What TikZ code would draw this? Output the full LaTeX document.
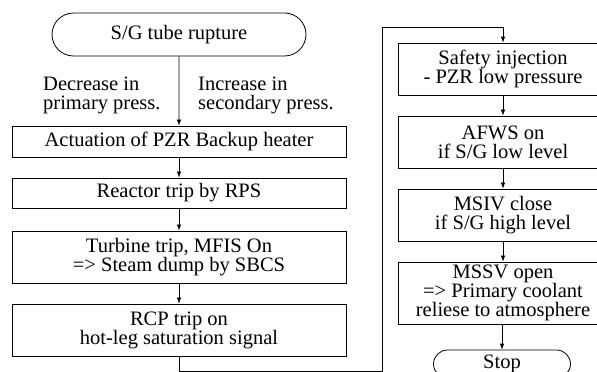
\documentclass[tikz,border=0pt]{standalone}
\usepackage{fontspec}
\setmainfont{Liberation Serif}
\usetikzlibrary{shapes.misc,arrows.meta}
\begin{document}
\begin{tikzpicture}[x=1pt,y=-1pt,
  every node/.style={font=\fontsize{20.5}{19}\selectfont, inner sep=0pt, align=center},
  box/.style={draw, line width=0.8pt, minimum width=334pt},
  rbox/.style={draw, line width=0.8pt, minimum width=210pt},
  term/.style={draw, line width=0.8pt, rounded rectangle},
  lbl/.style={anchor=west, align=left},
  conn/.style={line width=0.7pt, -{Latex[length=6pt,width=4.5pt]}},
  plain/.style={line width=0.7pt}]
\useasboundingbox (0,0) rectangle (597,372);
\clip (0,0) rectangle (597,372);
% left column
\node[term, minimum width=254pt, minimum height=43pt] (start) at (179,34.5) {S/G tube rupture};
\node[lbl] (ldec) at (43,95) {Decrease in\\primary press.};
\node[lbl] (linc) at (198,95) {Increase in\\secondary press.};
\node[box, minimum height=31pt] (b1) at (179,141.5) {Actuation of PZR Backup heater};
\node[box, minimum height=30pt] (b2) at (179,193) {Reactor trip by RPS};
\node[box, minimum height=52pt] (b3) at (179,257) {Turbine trip, MFIS On\\=> Steam dump by SBCS};
\node[box, minimum height=52pt] (b4) at (179,330) {RCP trip on\\hot-leg saturation signal};
% right column
\node[rbox, minimum height=52pt] (si) at (503,69) {Safety injection\\- PZR low pressure};
\node[rbox, minimum height=52pt] (af) at (503,142) {AFWS on\\if S/G low level};
\node[rbox, minimum height=52pt] (ms) at (503,215) {MSIV close\\if S/G high level};
\node[rbox, minimum height=62pt] (mv) at (503,293) {MSSV open\\=> Primary coolant\\reliese to atmosphere};
\node[term, minimum width=137pt, minimum height=28pt] (stop) at (502,364) {Stop};
% connectors
\draw[conn] (start) -- (b1);
\draw[conn] (b1) -- (b2);
\draw[conn] (b2) -- (b3);
\draw[conn] (b3) -- (b4);
\coordinate (c1) at (179,371);
\coordinate (c2) at (382,371);
\coordinate (c3) at (382,27);
\coordinate (c4) at (503,27);
\draw[plain] (b4.south) -- (c1) -- (c2) -- (c3) -- (c4);
\draw[conn] (c4) -- (si.north);
\draw[conn] (si) -- (af);
\draw[conn] (af) -- (ms);
\draw[conn] (ms) -- (mv);
\draw[conn] (mv.south -| stop.north) -- (stop.north);
\end{tikzpicture}
\end{document}
